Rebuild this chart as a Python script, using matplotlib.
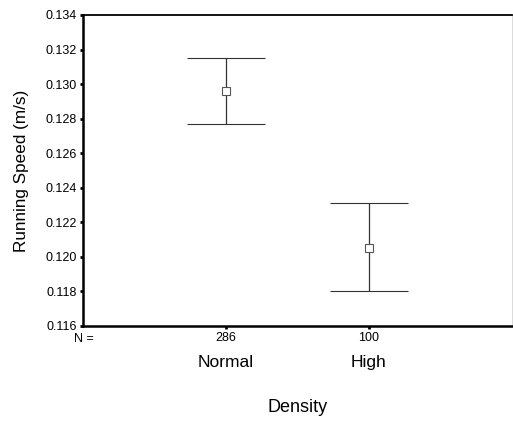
import numpy as np
import matplotlib.pyplot as plt
import matplotlib.transforms as mtransforms

plt.rcParams['font.family'] = ['Liberation Sans', 'DejaVu Sans']

# data
categories = ["Normal", "High"]
n_values = [286, 100]
means = [0.1296, 0.1205]
upper = [0.1315, 0.1231]
lower = [0.1277, 0.1180]
yticks = [0.116, 0.118, 0.120, 0.122, 0.124, 0.126, 0.128, 0.130, 0.132, 0.134]

fig = plt.figure(figsize=(5.13, 4.22), dpi=100)
ax = fig.add_axes([83 / 513, 1 - 326 / 422, 429 / 513, 311 / 422])

x = np.arange(1, len(categories) + 1)
means = np.array(means)
yerr = [means - np.array(lower), np.array(upper) - means]
ax.errorbar(x, means, yerr=yerr, fmt='s', mfc='white', mec='#555555', ms=6,
            mew=0.8, ecolor='#333333', elinewidth=0.9, capsize=28, capthick=0.9)

ax.set_xlim(0, 3)
ax.set_ylim(0.116, 0.134)
ax.set_yticks(yticks)
ax.set_yticklabels([f"{v:.3f}" for v in yticks], fontsize=9)
ax.set_xticks(x)
ax.set_xticklabels([str(n) for n in n_values], fontsize=9)
ax.tick_params(axis='both', direction='out', length=2.5, width=2, pad=2)

for side in ['left', 'bottom']:
    ax.spines[side].set_linewidth(1.8)
ax.spines['top'].set_linewidth(1.3)
ax.spines['right'].set_linewidth(0.5)
ax.spines['right'].set_color('#cccccc')

# group names and N label under the axis
trans = mtransforms.blended_transform_factory(ax.transData, ax.transAxes)
for xi, name in zip(x, categories):
    ax.text(xi, -0.116, name, transform=trans, ha='center', va='center', fontsize=12.5)
ax.text(-0.02, -0.043, "N =", transform=ax.transAxes, ha='left', va='center', fontsize=9)

ax.set_xlabel("Density", fontsize=13)
ax.xaxis.set_label_coords(0.5, -0.235)
ax.set_ylabel("Running Speed (m/s)", fontsize=12.3)
ax.yaxis.set_label_coords(-0.125, 0.5)

fig.savefig("out.png", dpi=100)
